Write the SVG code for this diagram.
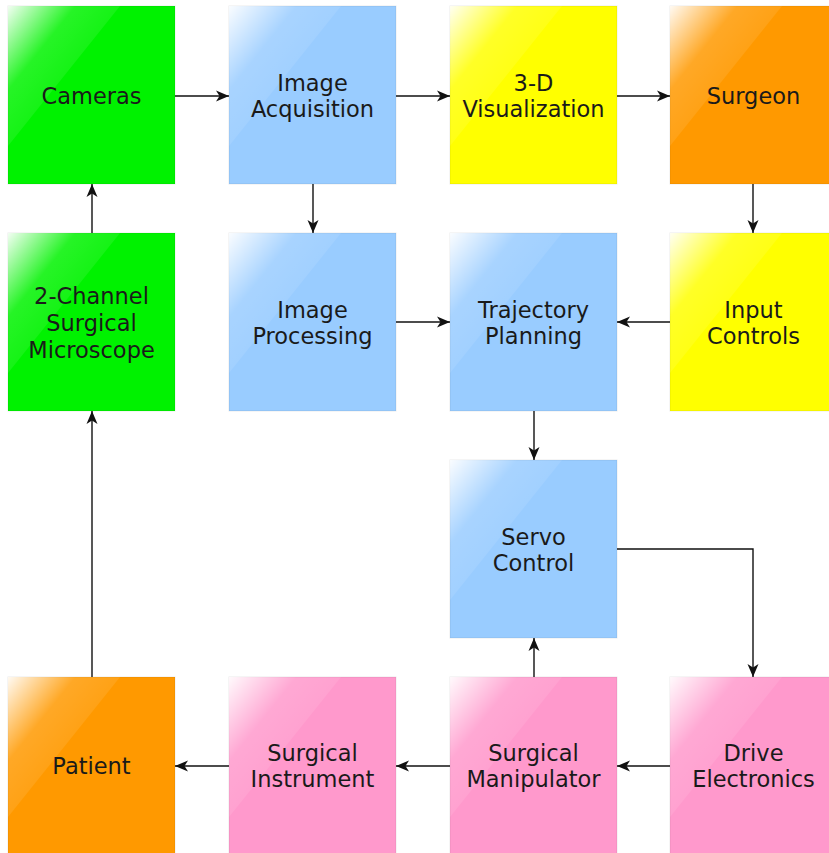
<svg xmlns="http://www.w3.org/2000/svg" width="829" height="853" viewBox="0 0 829 853">
<style>
.box{stroke:#000;stroke-opacity:0.08;stroke-width:1}
.green{fill:#00F200}
.blue{fill:#99CCFF}
.yellow{fill:#FFFF00}
.orange{fill:#FF9900}
.pink{fill:#FF99CC}
.gloss{fill:url(#gl)}
text{font-family:"DejaVu Sans","Liberation Sans",sans-serif;font-size:22.5px;fill:#1a1a1a;text-anchor:middle}
.c{fill:none;stroke:#111;stroke-width:1.4;marker-end:url(#ah)}
</style>
<defs>
<linearGradient id="gl" x1="0" y1="0" x2="0.55" y2="0.55">
<stop offset="0" stop-color="#fff" stop-opacity="0.95"/>
<stop offset="0.55" stop-color="#fff" stop-opacity="0.15"/>
<stop offset="1" stop-color="#fff" stop-opacity="0.07"/>
</linearGradient>
<marker id="ah" markerUnits="userSpaceOnUse" markerWidth="15" markerHeight="13" refX="13" refY="6.5" orient="auto" viewBox="0 0 15 13">
<path d="M0,1 L13,6.5 L0,12 L3.5,6.5 z" fill="#111"/>
</marker>
</defs>
<rect width="829" height="853" fill="#fff"/>
<g id="cameras" transform="translate(8,6)"><rect class="box green" width="167" height="178"/><path class="gloss" d="M0,0 H112 L0,140 Z"/><text x="83.5" y="98">Cameras</text></g>
<g id="image-acquisition" transform="translate(229,6)"><rect class="box blue" width="167" height="178"/><path class="gloss" d="M0,0 H112 L0,140 Z"/><text x="83.5" y="85">Image</text><text x="83.5" y="111">Acquisition</text></g>
<g id="visualization" transform="translate(450,6)"><rect class="box yellow" width="167" height="178"/><path class="gloss" d="M0,0 H112 L0,140 Z"/><text x="83.5" y="85">3-D</text><text x="83.5" y="111">Visualization</text></g>
<g id="surgeon" transform="translate(670,6)"><rect class="box orange" width="167" height="178"/><path class="gloss" d="M0,0 H112 L0,140 Z"/><text x="83.5" y="98">Surgeon</text></g>
<g id="microscope" transform="translate(8,233)"><rect class="box green" width="167" height="178"/><path class="gloss" d="M0,0 H112 L0,140 Z"/><text x="83.5" y="71">2-Channel</text><text x="83.5" y="98">Surgical</text><text x="83.5" y="125">Microscope</text></g>
<g id="image-processing" transform="translate(229,233)"><rect class="box blue" width="167" height="178"/><path class="gloss" d="M0,0 H112 L0,140 Z"/><text x="83.5" y="85">Image</text><text x="83.5" y="111">Processing</text></g>
<g id="trajectory-planning" transform="translate(450,233)"><rect class="box blue" width="167" height="178"/><path class="gloss" d="M0,0 H112 L0,140 Z"/><text x="83.5" y="85">Trajectory</text><text x="83.5" y="111">Planning</text></g>
<g id="input-controls" transform="translate(670,233)"><rect class="box yellow" width="167" height="178"/><path class="gloss" d="M0,0 H112 L0,140 Z"/><text x="83.5" y="85">Input</text><text x="83.5" y="111">Controls</text></g>
<g id="servo-control" transform="translate(450,460)"><rect class="box blue" width="167" height="178"/><path class="gloss" d="M0,0 H112 L0,140 Z"/><text x="83.5" y="85">Servo</text><text x="83.5" y="111">Control</text></g>
<g id="patient" transform="translate(8,677)"><rect class="box orange" width="167" height="178"/><path class="gloss" d="M0,0 H112 L0,140 Z"/><text x="83.5" y="97">Patient</text></g>
<g id="surgical-instrument" transform="translate(229,677)"><rect class="box pink" width="167" height="178"/><path class="gloss" d="M0,0 H112 L0,140 Z"/><text x="83.5" y="84">Surgical</text><text x="83.5" y="110">Instrument</text></g>
<g id="surgical-manipulator" transform="translate(450,677)"><rect class="box pink" width="167" height="178"/><path class="gloss" d="M0,0 H112 L0,140 Z"/><text x="83.5" y="84">Surgical</text><text x="83.5" y="110">Manipulator</text></g>
<g id="drive-electronics" transform="translate(670,677)"><rect class="box pink" width="167" height="178"/><path class="gloss" d="M0,0 H112 L0,140 Z"/><text x="83.5" y="84">Drive</text><text x="83.5" y="110">Electronics</text></g>
<g id="connectors">
<path class="c" d="M175,96 H229"/>
<path class="c" d="M396,96 H450"/>
<path class="c" d="M617,96 H670"/>
<path class="c" d="M313,184 V233"/>
<path class="c" d="M753,184 V233"/>
<path class="c" d="M670,322 H617"/>
<path class="c" d="M396,322 H450"/>
<path class="c" d="M534,411 V460"/>
<path class="c" d="M617,549 H753 V677"/>
<path class="c" d="M534,677 V638"/>
<path class="c" d="M670,766 H617"/>
<path class="c" d="M450,766 H396"/>
<path class="c" d="M229,766 H175"/>
<path class="c" d="M92,677 V411"/>
<path class="c" d="M92,233 V184"/>
</g>
</svg>
